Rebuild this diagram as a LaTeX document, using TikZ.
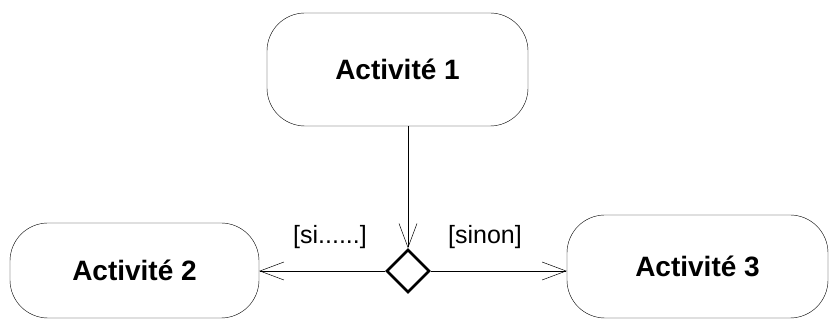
\documentclass[tikz,border=0pt]{standalone}
\usepackage{fontspec}
\setmainfont{Liberation Sans}
\usepackage{tikz}
\usetikzlibrary{shapes.geometric, arrows.meta, positioning, calc}

\begin{document}
\begin{tikzpicture}[
		x=1pt, y=1pt,
		every node/.style={font=\fontsize{25}{30}\selectfont},
		activite/.style={draw, thin, rounded corners=38pt, align=center, inner sep=0pt,
			font=\fontsize{28}{34}\selectfont\bfseries},
		decision/.style={draw, line width=2.6pt, diamond, minimum width=43pt, minimum height=43pt, inner sep=0pt},
		arrow/.style={thin, -{Straight Barb[length=24pt, width=18pt, line width=0.5pt]}}
		]
		\useasboundingbox (0,0) rectangle (830,320);
		
		% Activites
		\node[activite, minimum width=261pt, minimum height=113pt] (act1) at (397.5,250.5) {Activité 1};
		\node[activite, minimum width=249pt, minimum height=95pt] (act2) at (134.5,49.5) {Activité 2};
		\node[activite, minimum width=261pt, minimum height=103pt] (act3) at (697.5,53.5) {Activité 3};
		
		% Decision
		\node[decision] (choix) at (408,49) {};
		
		% Gardes
		\node (gsi) at (330,83) {[si......]};
		\node (gsinon) at (485,83) {[sinon]};
		
		% Fleches
		\draw[arrow] (choix.north |- act1.south) -- (choix.north);
		\draw[arrow] (choix.west) -- (choix.west -| act2.east);
		\draw[arrow] (choix.east) -- (choix.east -| act3.west);
	\end{tikzpicture}
\end{document}
